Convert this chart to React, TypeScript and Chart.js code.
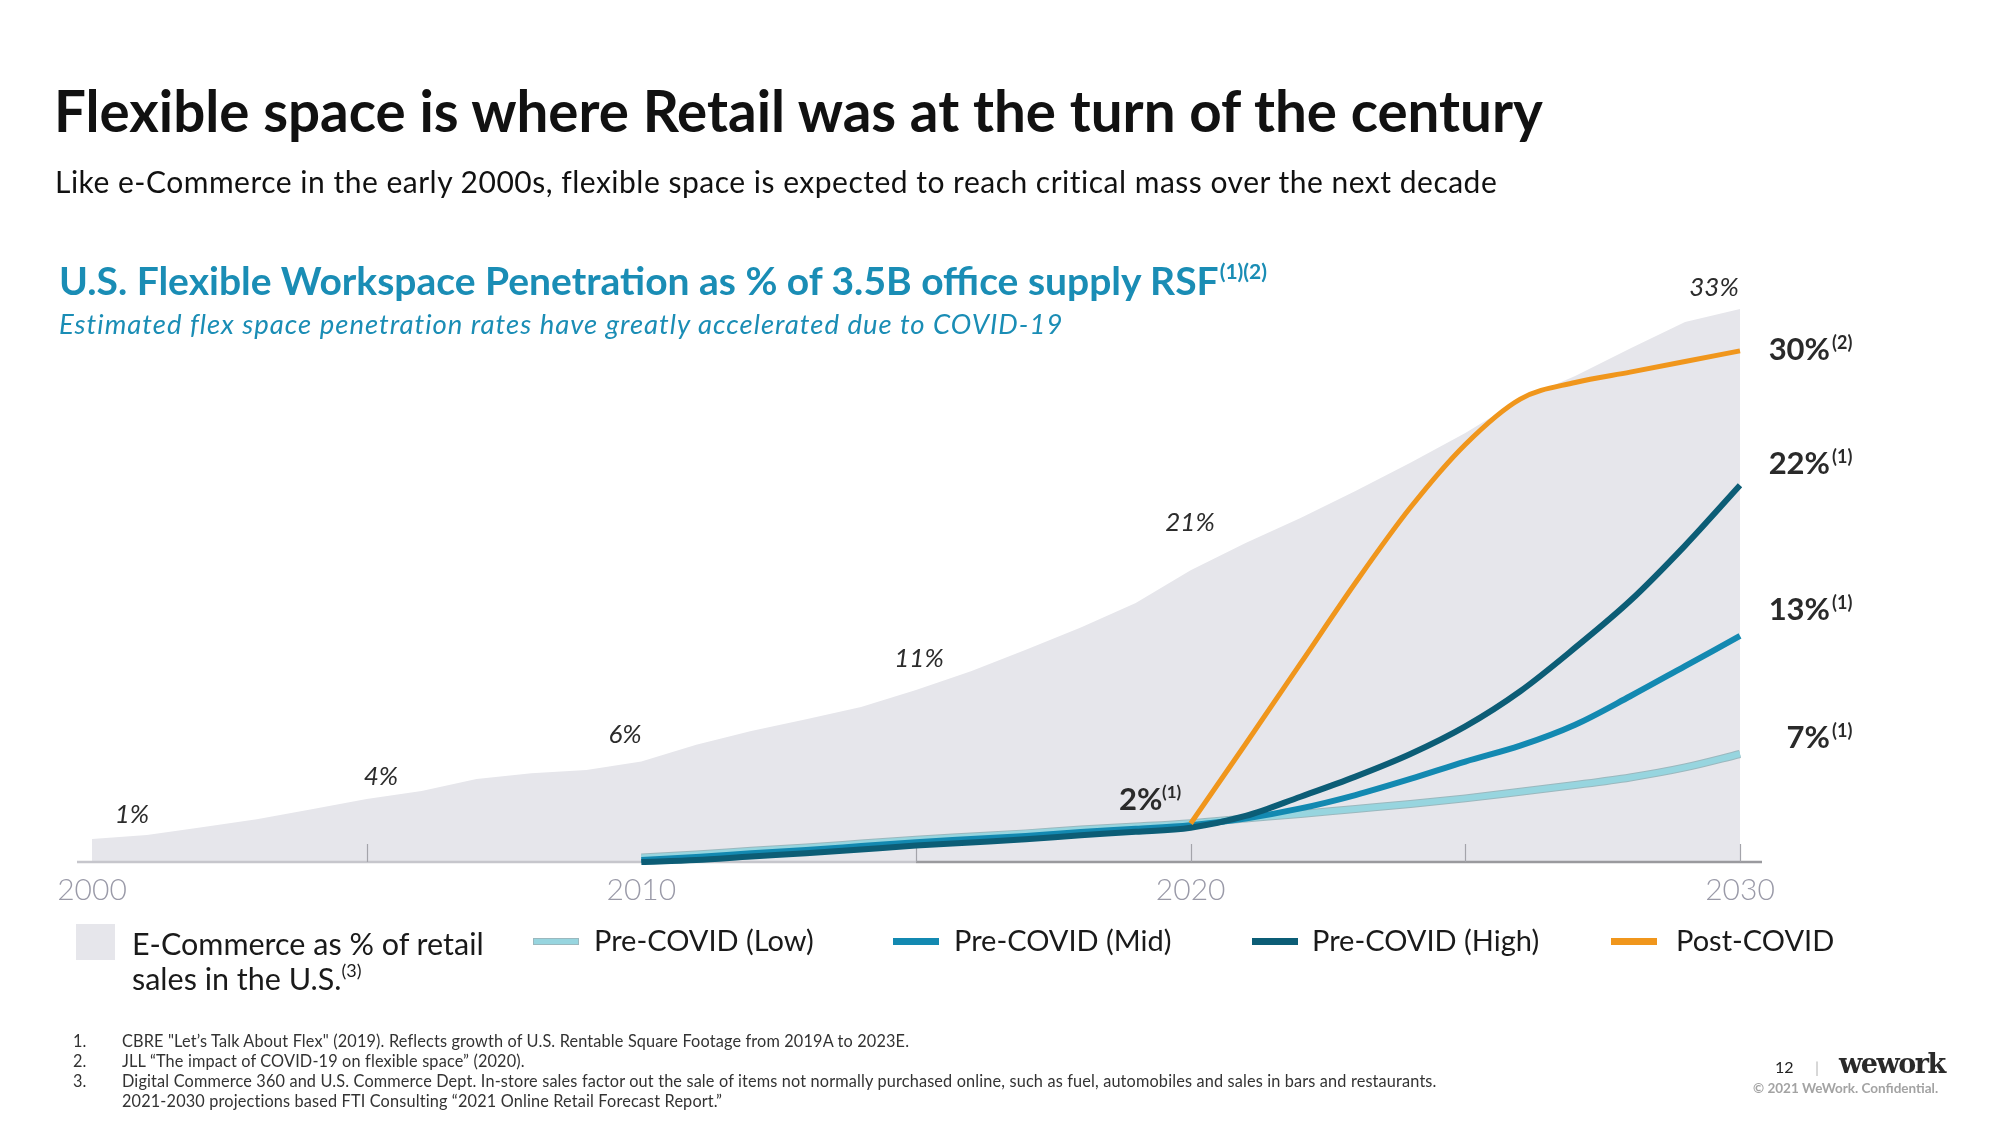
import React, { useEffect, useRef } from 'react';
import { Chart, registerables } from 'chart.js';

Chart.register(...registerables);

// ---------- data ----------
const YEARS = [2000, 2001, 2002, 2003, 2004, 2005, 2006, 2007, 2008, 2009, 2010, 2011, 2012, 2013, 2014, 2015, 2016, 2017, 2018, 2019, 2020, 2021, 2022, 2023, 2024, 2025, 2026, 2027, 2028, 2029, 2030];
const ECOMMERCE = [1.37, 1.61, 2.08, 2.55, 3.15, 3.76, 4.24, 4.95, 5.3, 5.5, 6.0, 7.01, 7.82, 8.52, 9.26, 10.27, 11.39, 12.67, 14.01, 15.47, 17.43, 19.05, 20.54, 22.16, 23.85, 25.63, 27.62, 29.03, 30.67, 32.26, 33.03];

const LINE_YEARS = [2010, 2011, 2012, 2013, 2014, 2015, 2016, 2017, 2018, 2019, 2020, 2021, 2022, 2023, 2024, 2025, 2026, 2027, 2028, 2029, 2030];
const PRE_LOW = [0.27, 0.45, 0.67, 0.87, 1.1, 1.33, 1.52, 1.71, 1.94, 2.12, 2.32, 2.6, 2.87, 3.17, 3.46, 3.8, 4.2, 4.6, 5.05, 5.65, 6.45];
const PRE_MID = [0.12, 0.3, 0.52, 0.72, 0.95, 1.18, 1.37, 1.56, 1.79, 1.98, 2.2, 2.6, 3.2, 4.0, 4.96, 6.0, 6.95, 8.2, 9.9, 11.7, 13.5];
const PRE_HIGH = [0.0, 0.12, 0.33, 0.52, 0.75, 0.98, 1.17, 1.36, 1.6, 1.8, 2.05, 2.75, 3.9, 5.1, 6.45, 8.1, 10.2, 12.8, 15.6, 18.9, 22.5];

const POST_YEARS = [2020, 2021, 2022, 2023, 2024, 2025, 2026, 2027, 2028, 2029, 2030];
const POST_COVID = [2.3, 7.05, 11.86, 16.68, 21.17, 24.94, 27.65, 28.64, 29.26, 29.89, 30.53];

const AXIS_LABEL_YEARS = [2000, 2010, 2020, 2030];
const TICK_YEARS = [2005, 2015, 2020, 2025, 2030];

const ECOM_LABELS = ['1%', '4%', '6%', '11%', '21%', '33%'];
const END_LABELS = ['30%', '22%', '13%', '7%'];
const END_NOTES = ['(2)', '(1)', '(1)', '(1)'];
const MID_LABEL = '2%';
const MID_NOTE = '(1)';

const LEGEND_LABELS = ['Pre-COVID (Low)', 'Pre-COVID (Mid)', 'Pre-COVID (High)', 'Post-COVID'];

const FOOTNOTES = [
  'CBRE "Let\u2019s Talk About Flex" (2019). Reflects growth of U.S. Rentable Square Footage from 2019A to 2023E.',
  'JLL \u201CThe impact of COVID-19 on flexible space\u201D (2020).',
  'Digital Commerce 360 and U.S. Commerce Dept. In-store sales factor out the sale of items not normally purchased online, such as fuel, automobiles and sales in bars and restaurants.',
  '2021-2030 projections based FTI Consulting \u201C2021 Online Retail Forecast Report.\u201D',
];

// ---------- style ----------
const AREA = '#e6e6eb';
const C_LOW = '#97d5df';
const C_LOW_EDGE = '#9ab8be';
const C_MID = '#1389b1';
const C_HIGH = '#0c5d76';
const C_POST = '#f0961c';
const TEAL = '#1a8db5';
const FONT = 'Lato, "Open Sans", sans-serif';
const ASC = 0.887;

const pts = (xs: number[], ys: number[]) => xs.map((x, i) => ({ x, y: ys[i] }));

function Txt(props: { x: number; y: number; size: number; children: any; style?: any }) {
  const { x, y, size, children, style } = props;
  const base: any = {
    position: 'absolute',
    left: x,
    top: y - ASC * size,
    fontSize: size,
    lineHeight: `${size}px`,
    whiteSpace: 'nowrap',
    fontFamily: FONT,
    color: '#1a1a1a',
  };
  return <div style={{ ...base, ...style }}>{children}</div>;
}

const decor = {
  id: 'decor',
  beforeDatasetsDraw(chart: any) {
    const { ctx, scales } = chart;
    const xs = scales.x;
    const ys = scales.y;
    const y0 = ys.getPixelForValue(0);
    const xStart = xs.getPixelForValue(YEARS[0]) - 15;
    const xMid = xs.getPixelForValue(2015);
    const xEnd = xs.getPixelForValue(YEARS[YEARS.length - 1]) + 22;
    ctx.save();
    ctx.lineWidth = 2.5;
    ctx.strokeStyle = '#c6c6cc';
    ctx.beginPath();
    ctx.moveTo(xStart, y0);
    ctx.lineTo(xMid, y0);
    ctx.stroke();
    ctx.strokeStyle = '#9a9a9e';
    ctx.beginPath();
    ctx.moveTo(xMid, y0);
    ctx.lineTo(xEnd, y0);
    ctx.stroke();
    ctx.lineWidth = 1.2;
    ctx.strokeStyle = '#a4a4aa';
    TICK_YEARS.forEach((yr) => {
      const px = Math.round(xs.getPixelForValue(yr)) + 0.5;
      ctx.beginPath();
      ctx.moveTo(px, y0 - 18);
      ctx.lineTo(px, y0);
      ctx.stroke();
    });
    ctx.fillStyle = '#9a9aa8';
    ctx.font = `300 30px ${FONT}`;
    ctx.textAlign = 'center';
    ctx.textBaseline = 'alphabetic';
    AXIS_LABEL_YEARS.forEach((yr) => {
      ctx.fillText(String(yr), xs.getPixelForValue(yr), y0 + 38);
    });
    ctx.restore();
  },
  afterDatasetsDraw(chart: any) {
    const { ctx } = chart;
    ctx.save();
    ctx.textBaseline = 'alphabetic';
    ctx.fillStyle = '#2c2c2c';
    ctx.font = `italic 26px ${FONT}`;
    ctx.textAlign = 'center';
    const ecomPos = [
      [132, 823],
      [381, 785],
      [625, 743],
      [919, 667],
      [1190, 531],
      [1714, 296],
    ];
    ECOM_LABELS.forEach((t, i) => ctx.fillText(t, ecomPos[i][0], ecomPos[i][1]));
    const endBase = [360, 474, 620, 748];
    END_LABELS.forEach((t, i) => {
      ctx.font = `bold 31px ${FONT}`;
      ctx.textAlign = 'right';
      ctx.fillStyle = '#2a2a2a';
      ctx.fillText(t, 1830, endBase[i]);
      ctx.font = `bold 18px ${FONT}`;
      ctx.textAlign = 'left';
      ctx.fillText(END_NOTES[i], 1832, endBase[i] - 11);
    });
    ctx.font = `bold 31px ${FONT}`;
    ctx.textAlign = 'left';
    ctx.fillText(MID_LABEL, 1119, 810);
    ctx.font = `bold 17px ${FONT}`;
    ctx.fillText(MID_NOTE, 1162, 798);
    ctx.restore();
  },
};

export default function App() {
  const ref = useRef<HTMLCanvasElement | null>(null);
  useEffect(() => {
    if (!ref.current) return;
    const lineBase = {
      fill: false,
      pointRadius: 0,
      borderWidth: 6,
      cubicInterpolationMode: 'monotone' as const,
      clip: false as any,
      borderCapStyle: 'butt' as const,
    };
    const chart = new Chart(ref.current, {
      type: 'line',
      data: {
        datasets: [
          {
            label: 'E-Commerce as % of retail sales in the U.S.',
            data: pts(YEARS, ECOMMERCE),
            fill: 'origin',
            backgroundColor: AREA,
            borderColor: AREA,
            borderWidth: 0,
            pointRadius: 0,
            tension: 0,
            order: 10,
          },
          { ...lineBase, label: 'low-edge', data: pts(LINE_YEARS, PRE_LOW), borderColor: C_LOW_EDGE, borderWidth: 8, order: 5 },
          { ...lineBase, label: LEGEND_LABELS[0], data: pts(LINE_YEARS, PRE_LOW), borderColor: C_LOW, borderWidth: 6, order: 4 },
          { ...lineBase, label: LEGEND_LABELS[1], data: pts(LINE_YEARS, PRE_MID), borderColor: C_MID, order: 3 },
          { ...lineBase, label: LEGEND_LABELS[2], data: pts(LINE_YEARS, PRE_HIGH), borderColor: C_HIGH, order: 2 },
          { ...lineBase, label: LEGEND_LABELS[3], data: pts(POST_YEARS, POST_COVID), borderColor: C_POST, borderWidth: 5, order: 1 },
        ],
      },
      options: {
        animation: false,
        responsive: false,
        devicePixelRatio: 1,
        layout: { padding: { left: 92, right: 260, top: 276, bottom: 263 } },
        scales: {
          x: { type: 'linear', min: 2000, max: 2030, display: false },
          y: { type: 'linear', min: 0, max: 35, display: false },
        },
        plugins: {
          legend: { display: false },
          tooltip: { enabled: false },
          filler: { drawTime: 'beforeDatasetsDraw' },
        } as any,
      },
      plugins: [decor],
    });
    return () => chart.destroy();
  }, []);

  const legendItems = [
    { sw: 533, tx: 594, c: C_LOW },
    { sw: 893, tx: 954, c: C_MID },
    { sw: 1252, tx: 1312, c: C_HIGH },
    { sw: 1611, tx: 1676, c: C_POST },
  ];

  return (
    <div style={{ position: 'absolute', left: 0, top: 0, width: 2000, height: 1125, background: '#fff', overflow: 'hidden', fontFamily: FONT }}>
      <canvas ref={ref} width={2000} height={1125} style={{ position: 'absolute', left: 0, top: 0, width: 2000, height: 1125 }} />

      <Txt x={54} y={132} size={56.5} style={{ fontWeight: 700, color: '#111' }}>
        Flexible space is where Retail was at the turn of the century
      </Txt>
      <Txt x={55} y={193} size={30} style={{ color: '#111', letterSpacing: 0.5 }}>
        Like e-Commerce in the early 2000s, flexible space is expected to reach critical mass over the next decade
      </Txt>
      <Txt x={59} y={296} size={39} style={{ fontWeight: 700, color: TEAL }}>
        U.S. Flexible Workspace Penetration as % of 3.5B office supply RSF
        <span style={{ fontSize: 21, position: 'relative', top: -16, marginLeft: 1 }}>(1)(2)</span>
      </Txt>
      <Txt x={59} y={334} size={27.5} style={{ fontStyle: 'italic', color: TEAL, letterSpacing: 1.0 }}>
        Estimated flex space penetration rates have greatly accelerated due to COVID-19
      </Txt>

      {/* legend */}
      <div style={{ position: 'absolute', left: 76, top: 924, width: 39, height: 36, background: AREA }} />
      <Txt x={132} y={955} size={30.5}>E-Commerce as % of retail</Txt>
      <Txt x={132} y={990} size={30.5}>
        sales in the U.S.<span style={{ fontSize: 18, position: 'relative', top: -13 }}>(3)</span>
      </Txt>
      {legendItems.map((it, i) => (
        <React.Fragment key={i}>
          <div
            style={{
              position: 'absolute',
              left: it.sw,
              top: 938,
              width: 46,
              height: 7,
              background: it.c,
              boxShadow: i === 0 ? `inset 0 0 0 1px ${C_LOW_EDGE}` : undefined,
            }}
          />
          <Txt x={it.tx} y={951} size={29}>{LEGEND_LABELS[i]}</Txt>
        </React.Fragment>
      ))}

      {/* footnotes */}
      {FOOTNOTES.map((f, i) => {
        const by = [1047, 1067, 1087, 1107][i];
        return (
          <React.Fragment key={i}>
            {i < 3 ? <Txt x={73} y={by} size={16.3} style={{ color: '#333' }}>{`${i + 1}.`}</Txt> : null}
            <Txt x={122} y={by} size={16.3} style={{ color: '#333', letterSpacing: 0.15 }}>{f}</Txt>
          </React.Fragment>
        );
      })}

      {/* footer */}
      <Txt x={1775} y={1073} size={16} style={{ color: '#222' }}>12</Txt>
      <Txt x={1815} y={1073} size={16} style={{ color: '#bbb' }}>|</Txt>
      <Txt x={1839} y={1074} size={27} style={{ fontFamily: '"DejaVu Serif", serif', fontWeight: 700, color: '#2a2a2a', letterSpacing: -1.5 }}>wework</Txt>
      <Txt x={1753} y={1094} size={13.5} style={{ fontWeight: 700, color: '#a3a3a3' }}>{'\u00A9 2021 WeWork. Confidential.'}</Txt>
    </div>
  );
}
